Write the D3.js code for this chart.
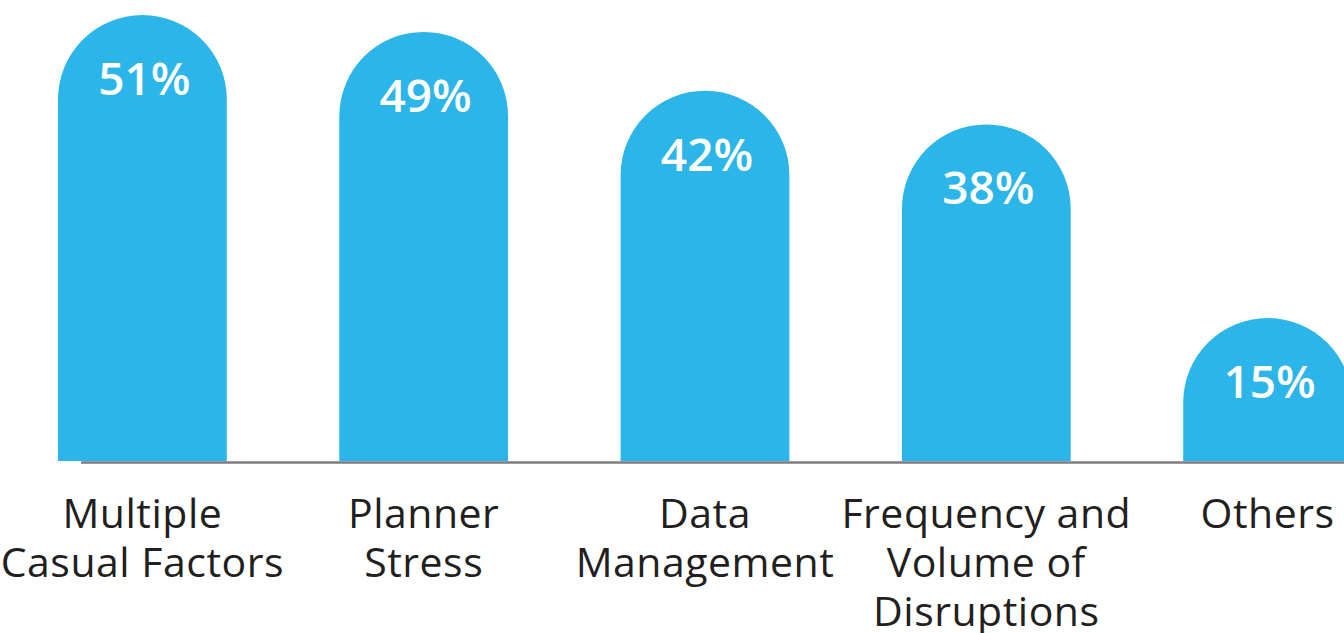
<!DOCTYPE html>
<html>
<head>
<meta charset="utf-8">
<script src="https://cdn.jsdelivr.net/npm/d3@7"></script>
<style>
  body { margin: 0; background: #fff; overflow: hidden; }
</style>
</head>
<body>
<div class="chart"></div>
<script>
// data
let categories = ["Multiple Casual Factors", "Planner Stress", "Data Management", "Frequency and Volume of Disruptions", "Others"]
let categoryLines = [
    ["Multiple", "Casual Factors"],
    ["Planner", "Stress"],
    ["Data", "Management"],
    ["Frequency and", "Volume of", "Disruptions"],
    ["Others"]
]
let values = [51, 49, 42, 38, 15]

let svgWidth = 1344
let svgHeight = 633
let baseline = 461

let svg = d3.select('.chart')
    .append('svg')
    .attr('width', svgWidth)
    .attr('height', svgHeight)

let xScale = d3.scaleBand()
    .domain(categories)
    .range([58, 1352])
    .paddingInner(0.4)
    .paddingOuter(0)

let yScale = d3.scaleLinear()
    .domain([-2, 51])
    .range([baseline, 15])

// bar with semicircle top
function barPath(d) {
    let x0 = xScale(d.cat)
    let w = xScale.bandwidth()
    let r = w / 2
    let top = yScale(d.value)
    return `M${x0},${baseline} L${x0},${top + r} A${r},${r} 0 0 1 ${x0 + w},${top + r} L${x0 + w},${baseline} Z`
}

let data = categories.map((c, i) => ({cat: c, value: values[i], lines: categoryLines[i]}))

svg.selectAll('path.bar')
    .data(data)
    .join('path')
    .attr('class', 'bar')
    .attr('d', barPath)
    .attr('fill', '#2bb5e8')

// axis line
svg.append('line')
    .attr('x1', 81)
    .attr('x2', svgWidth)
    .attr('y1', baseline + 1.5)
    .attr('y2', baseline + 1.5)
    .attr('stroke', '#817a81')
    .attr('stroke-width', 2.5)

// value labels
svg.selectAll('text.value')
    .data(data)
    .join('text')
    .attr('class', 'value')
    .attr('x', d => xScale(d.cat) + xScale.bandwidth() / 2 + 2)
    .attr('y', d => yScale(d.value) + 80)
    .attr('text-anchor', 'middle')
    .attr('fill', '#fff')
    .style('font-family', '"Open Sans", sans-serif')
    .style('font-weight', 600)
    .style('font-size', '46px')
    .text(d => d.value + '%')

// category labels
let labels = svg.selectAll('text.cat')
    .data(data)
    .join('text')
    .attr('class', 'cat')
    .attr('text-anchor', 'middle')
    .attr('fill', '#231f20')
    .style('font-family', '"Open Sans", sans-serif')
    .style('font-size', '41px')
    .style('letter-spacing', '0.5px')

labels.selectAll('tspan')
    .data(d => d.lines.map(l => ({l, x: xScale(d.cat) + xScale.bandwidth() / 2})))
    .join('tspan')
    .attr('x', d => d.x)
    .attr('y', (d, i) => 528 + i * 49)
    .text(d => d.l)
</script>
</body>
</html>
